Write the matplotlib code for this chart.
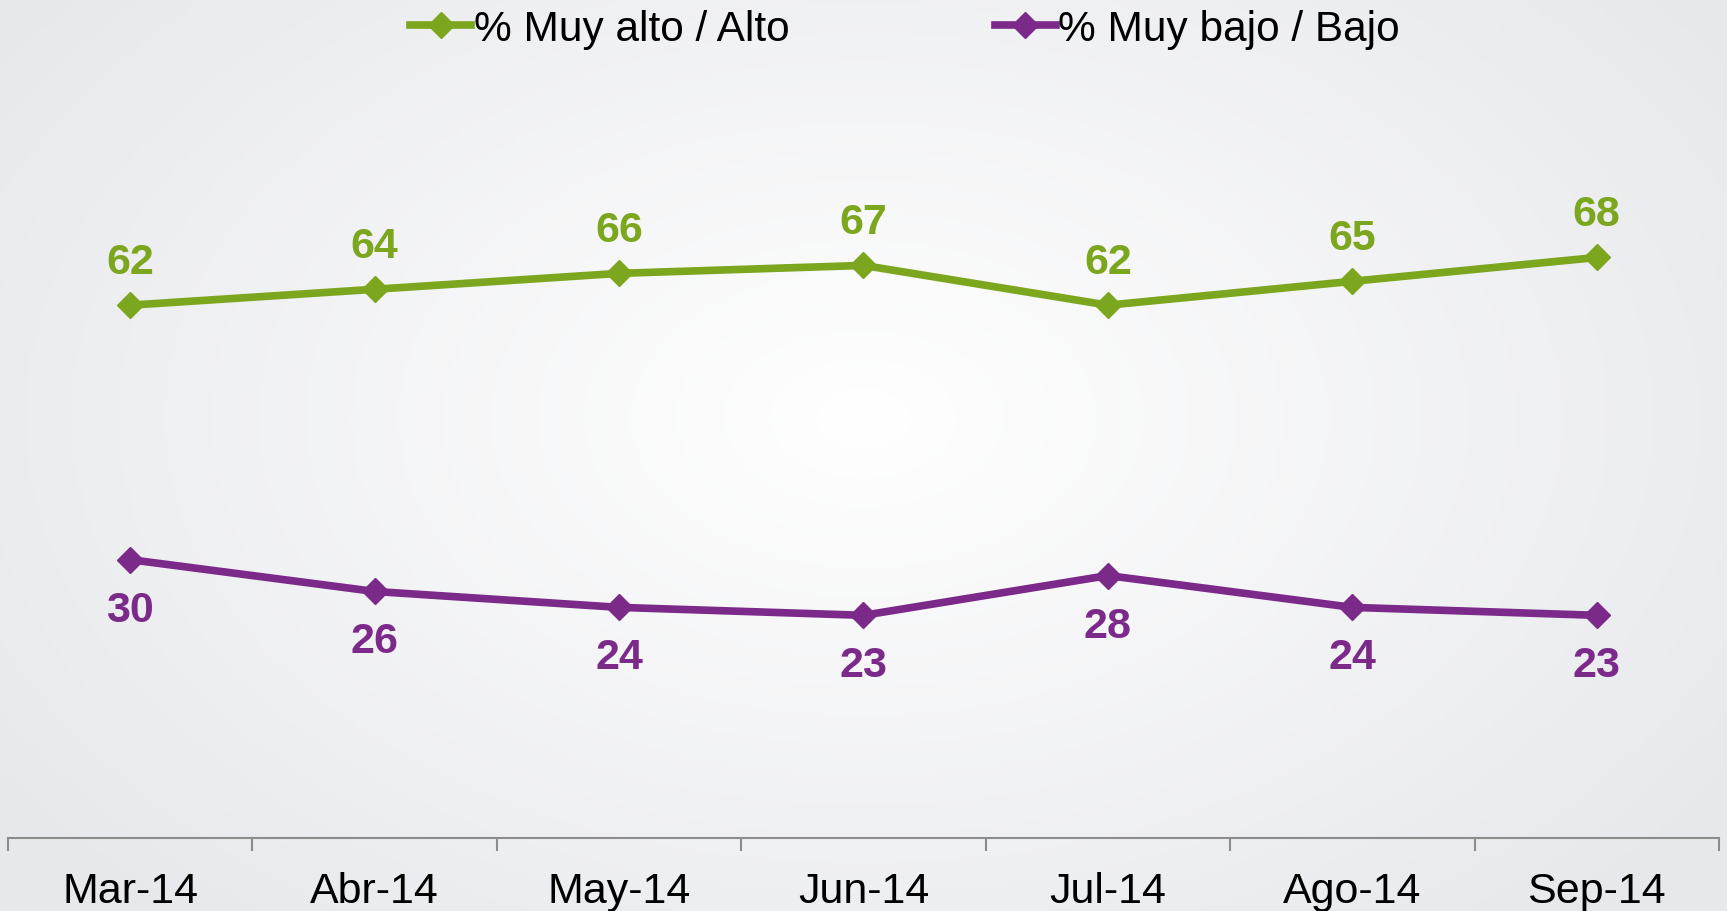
import numpy as np
import matplotlib
matplotlib.use("Agg")
import matplotlib.pyplot as plt

plt.rcParams['font.family'] = ['Liberation Sans', 'DejaVu Sans']

## -----------------------------------------------
# data
## -----------------------------------------------
months = ["Mar-14", "Abr-14", "May-14", "Jun-14", "Jul-14", "Ago-14", "Sep-14"]
alto = [62, 64, 66, 67, 62, 65, 68]
bajo = [30, 26, 24, 23, 28, 24, 23]

green = "#7BA61E"
purple = "#7B2A8A"

fig = plt.figure(figsize=(17.27, 9.12), dpi=100)

# radial gradient background
bg = fig.add_axes([0, 0, 1, 1], zorder=0)
gx, gy = np.meshgrid(np.linspace(0, 1, 400), np.linspace(0, 1, 220))
r = np.sqrt(((gx - 0.50) / 0.62) ** 2 + ((gy - 0.46) / 0.75) ** 2)
r = np.clip(r, 0, 1)
lo = np.array([1.0, 1.0, 1.0])
hi = np.array([0.905, 0.910, 0.922])
img = lo[None, None, :] * (1 - r[..., None]) + hi[None, None, :] * r[..., None]
bg.imshow(img, extent=[0, 1, 0, 1], aspect='auto', origin='upper')
bg.axis('off')

ax = fig.add_axes([8 / 1727, 1 - 839 / 912, (1719 - 8) / 1727, 839 / 912], zorder=1)
ax.patch.set_alpha(0)

x = np.arange(len(months))
ax.plot(x, alto, color=green, lw=5.5, marker='D', ms=13, label="% Muy alto / Alto")
ax.plot(x, bajo, color=purple, lw=5.5, marker='D', ms=13, label="% Muy bajo / Bajo")

for xi, v in zip(x, alto):
    ax.annotate(str(v), (xi, v), xytext=(0, 31), textcoords='offset points',
                ha='center', va='center', fontsize=31, fontweight='bold', color=green)
for xi, v in zip(x, bajo):
    ax.annotate(str(v), (xi, v), xytext=(0, -36), textcoords='offset points',
                ha='center', va='center', fontsize=31, fontweight='bold', color=purple)

ax.set_xlim(-0.5, len(months) - 0.5)
ax.set_ylim(-5, 100.5)
ax.set_yticks([])
for s in ['top', 'right', 'left']:
    ax.spines[s].set_visible(False)
ax.spines['bottom'].set_color('#8c8c8c')
ax.spines['bottom'].set_linewidth(1.5)

ax.set_xticks(x)
ax.set_xticklabels(months, fontsize=31)
ax.tick_params(axis='x', which='major', length=0, pad=24)
ax.set_xticks(np.arange(-0.5, len(months)), minor=True)
ax.tick_params(axis='x', which='minor', length=9, width=1.5, color='#8c8c8c')

fig.legend(loc='center', bbox_to_anchor=(0.524, 0.967), ncol=2, frameon=False,
           fontsize=30.5, handlelength=1.45, handletextpad=0.05, columnspacing=4.85)

plt.savefig("out.png", dpi=100)
